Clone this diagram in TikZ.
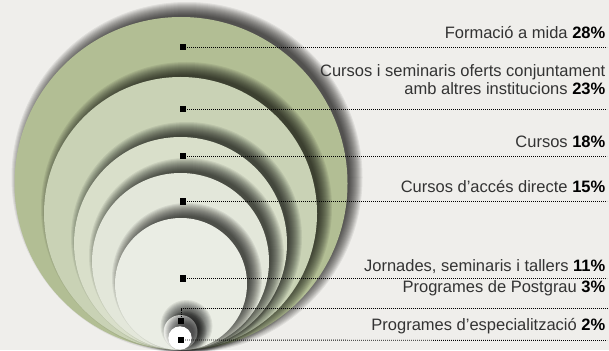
\documentclass[tikz,border=0pt]{standalone}
\usepackage{fontspec}
\setmainfont{Liberation Sans}
\definecolor{bgc}{HTML}{EFEEEB}
\definecolor{cA}{HTML}{B2BE94}
\definecolor{cB}{HTML}{C9D2B5}
\definecolor{cC}{HTML}{D9DFCA}
\definecolor{cD}{HTML}{E3E7DA}
\definecolor{cE}{HTML}{EAEDE4}
\definecolor{cF}{HTML}{E9EAE5}
\definecolor{cG}{HTML}{FFFFFF}
\definecolor{txt}{HTML}{333333}
\newcommand\shadedring[4]{% cx, cy, r, colour
  \foreach \k in {0,...,13}{
    \fill[black,opacity=0.07] (#1+6,#2-6) circle[radius={(#3+9-\k)*1pt}];
  }
  \fill[#4] (#1,#2) circle[radius={#3*1pt}];
}
\begin{document}
\begin{tikzpicture}[x=1pt,y=-1pt,
  marker/.style={fill=black,inner sep=0pt,minimum size=6.5pt},
  leader/.style={black,line width=0.9pt,dash pattern=on 0.9pt off 1.1pt},
  lab/.style={anchor=base east,inner sep=0pt,text=txt,font=\fontsize{16.5}{18.3}\selectfont}]
\fill[bgc] (0,0) rectangle (609,350);
\useasboundingbox (0,0) rectangle (609,350);
\begin{scope}
\clip (0,0) rectangle (609,350);
\shadedring{181}{183.5}{166.5}{cA}
\shadedring{180.5}{213.5}{136.5}{cB}
\shadedring{180.5}{243.5}{106.5}{cC}
\shadedring{180.5}{261.5}{88.5}{cD}
\shadedring{181}{284}{66}{cE}
\shadedring{180.5}{332}{17}{cF}
\shadedring{180}{338}{11.7}{cG}
\end{scope}
% markers
\node[marker] (m1) at (183,47) {};
\node[marker] (m2) at (183,109) {};
\node[marker] (m3) at (183,156) {};
\node[marker] (m4) at (183,201.7) {};
\node[marker] (m5) at (183,278.7) {};
\node[marker] (m6) at (181,321) {};
\node[marker] (m7) at (181,340) {};
% line ends
\coordinate (e1) at (607,47);
\coordinate (e2) at (607,109);
\coordinate (e3) at (607,156);
\coordinate (e4) at (607,201.7);
\coordinate (e5) at (607,278.7);
\coordinate (e6) at (607,308.5);
\coordinate (e7) at (607,340.5);
\draw[leader] (m1.center) -- (e1);
\draw[leader] (m2.center) -- (e2);
\draw[leader] (m3.center) -- (e3);
\draw[leader] (m4.center) -- (e4);
\draw[leader] (m5.center) -- (e5);
\draw[leader] (m6.center) |- (e6);
\draw[leader] (m7.center) -- (e7);
% labels
\node[lab] (l1) at (605.5,38.7) {Formació a mida \textbf{\color{black}28\%}};
\node[lab] (l2a) at (605.5,76.7) {Cursos i seminaris oferts conjuntament};
\node[lab] (l2b) at (605.5,95) {amb altres institucions \textbf{\color{black}23\%}};
\node[lab] (l3) at (605.5,147.3) {Cursos \textbf{\color{black}18\%}};
\node[lab] (l4) at (605.5,192.8) {Cursos d’accés directe \textbf{\color{black}15\%}};
\node[lab] (l5) at (605.5,271) {Jornades, seminaris i tallers \textbf{\color{black}11\%}};
\node[lab] (l6) at (605.5,292.3) {Programes de Postgrau \textbf{\color{black}3\%}};
\node[lab] (l7) at (605.5,330) {Programes d’especialització \textbf{\color{black}2\%}};
\end{tikzpicture}
\end{document}
